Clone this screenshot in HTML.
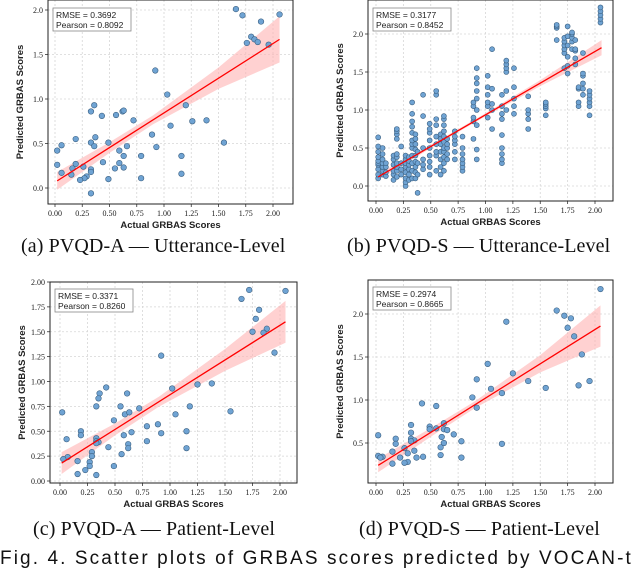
<!DOCTYPE html>
<html><head><meta charset="utf-8"><style>
body{margin:0;background:#fff;width:640px;height:561px;overflow:hidden;position:relative}
svg{position:absolute;left:0;top:0}
.cap{position:absolute;font-family:"Liberation Serif",serif;font-size:20px;letter-spacing:0.1px;color:#111;white-space:nowrap}
</style></head><body>
<svg id="fig" width="640" height="561"></svg>
<div class="cap" style="left:21px;top:235px">(a) PVQD-A — Utterance-Level</div>
<div class="cap" style="left:347px;top:235px">(b) PVQD-S — Utterance-Level</div>
<div class="cap" style="left:33px;top:518px">(c) PVQD-A — Patient-Level</div>
<div class="cap" style="left:359px;top:518px">(d) PVQD-S — Patient-Level</div>
<div class="cap" style="left:0px;top:548px;font-family:'Liberation Sans',sans-serif;font-size:19px;letter-spacing:2.1px">Fig. 4.  Scatter plots of GRBAS scores predicted by VOCAN-t</div>
<script>
// Panel A data
const aX=[1.66,1.72,2.06,1.89,1.80,1.83,1.76,1.86,1.96,0.92,1.03,1.20,0.36,0.33,0.43,0.56,0.62,0.63,0.72,1.06,1.26,1.39,0.89,0.19,0.37,0.33,0.36,0.49,0.06,0.02,0.59,0.66,0.93,1.55,0.63,0.79,1.16,0.44,0.59,0.02,0.19,0.26,0.16,0.55,0.63,0.33,0.33,0.06,0.15,0.29,0.27,0.23,0.49,0.79,1.16,0.33];
const aY=[2.01,1.94,1.95,1.87,1.70,1.67,1.63,1.64,1.61,1.32,1.05,0.93,0.93,0.86,0.81,0.82,0.86,0.87,0.76,0.70,0.75,0.76,0.60,0.55,0.57,0.51,0.47,0.51,0.48,0.42,0.42,0.47,0.46,0.51,0.36,0.36,0.36,0.29,0.28,0.26,0.27,0.24,0.22,0.22,0.23,0.21,0.18,0.17,0.15,0.13,0.11,0.09,0.10,0.11,0.16,-0.06];
const aLineX=[0.02,2.06];
const aLineY=[0.08,1.67];
const aBandX=[0.02,0.5,0.9,1.5,2.06];
const aBandHalf=[0.1,0.06,0.05,0.12,0.26];
const aYTicks=[0,0.5,1.0,1.5,2.0];
const aYLabels=["0.0","0.5","1.0","1.5","2.0"];
// Panel B data (columns of points)
const bColX=[0.02,0.06,0.09,0.16,0.19,0.23,0.27,0.30,0.33,0.36,0.38,0.43,0.49,0.55,0.59,0.62,0.65,0.72,0.79,0.89,0.92,1.02,1.06,1.15,1.19,1.26,1.39,1.55,1.65,1.72,1.75,1.79,1.82,1.85,1.89,1.95,2.05];
const bColY=[[0.1,0.15,0.22,0.28,0.3,0.33,0.38,0.45,0.52,0.64],[0.15,0.2,0.25,0.3,0.35,0.42,0.5],[0.13,0.18,0.25,0.3],[0.08,0.15,0.2,0.28,0.35,0.4],[0.12,0.2,0.25,0.3,0.38,0.42,0.62,0.68,0.72,0.75],[0.15,0.22,0.3,0.52],[0.0,0.05,0.1,0.18,0.25,0.3,0.35,0.4],[0.08,0.15,0.22,0.28,0.33,0.38],[0.1,0.2,0.3,0.4,0.5,0.55,0.6,0.7,0.78,0.85,0.95,1.1],[0.1,0.18,0.25,0.32,0.4,0.48,0.55,0.62,0.68],[-0.09,0.15,0.3,0.45],[0.22,0.28,0.35,0.5,0.92,1.2],[0.15,0.25,0.32,0.4,0.5,0.6,0.7,0.75,0.82],[0.2,0.4,0.45,0.55,0.65,0.8,0.88,1.2,1.25],[0.15,0.25,0.35,0.45,0.55,0.62,0.68],[0.2,0.3,0.38,0.45,0.5,0.58,0.65,0.72,0.8,0.88,0.92],[0.35,0.42,0.5,0.55,0.62],[0.35,0.45,0.55,0.6,0.65,0.72],[0.2,0.25,0.3,0.35,0.42,0.5,0.65],[0.62,0.85,0.9,1.05,1.1],[0.35,0.48,0.8,1.0,1.15,1.25,1.35,1.42,1.55],[0.9,1.05,1.1,1.2,1.3,1.45],[0.75,1.0,1.08,1.28,1.8],[0.3,0.35,0.42,0.5,0.67,0.88,0.95,1.05,1.2],[1.0,1.25,1.5,1.55,1.6,1.65],[0.95,1.05,1.15,1.3,1.55],[0.75,0.88,0.95,1.0,1.18],[0.93,1.02,1.05,1.08,1.1],[1.92,2.08,2.1,2.12],[1.55,1.75,1.8,1.85,1.9,1.95],[1.48,1.58,1.7,1.85,1.97,2.1],[1.8,1.9,1.95,2.0,2.02],[1.6,1.68,1.78,1.8,1.92],[1.05,1.1,1.28,1.3],[1.2,1.28,1.35,1.45,1.48,1.75],[0.93,1.05,1.1,1.15,1.2,1.25],[2.15,2.2,2.25,2.3,2.35]];
const bLineX=[0.02,2.06];
const bLineY=[0.12,1.82];
const bBandX=[0.02,0.6,1.0,1.5,2.06];
const bBandHalf=[0.04,0.02,0.02,0.04,0.1];
const bYTicks=[0,0.5,1.0,1.5,2.0];
const bYLabels=["0.0","0.5","1.0","1.5","2.0"];
// Panel C data
const cX=[1.72,1.65,2.05,1.81,1.78,1.75,1.88,1.85,1.95,0.92,1.02,1.25,1.38,0.42,0.36,0.35,0.61,0.33,0.55,0.72,1.18,0.59,0.63,1.05,1.55,0.02,0.49,0.79,0.89,0.65,0.58,0.92,1.15,0.06,0.19,0.19,0.33,0.33,0.35,0.33,0.79,0.44,0.62,0.62,1.15,0.29,0.29,0.07,0.03,0.16,0.27,0.27,0.56,0.49,0.23,0.16,0.33];
const cY=[1.92,1.83,1.91,1.72,1.63,1.50,1.53,1.49,1.29,1.26,0.93,0.97,0.98,0.94,0.88,0.83,0.88,0.75,0.75,0.73,0.75,0.67,0.69,0.67,0.70,0.69,0.61,0.55,0.57,0.49,0.46,0.48,0.50,0.42,0.50,0.46,0.43,0.40,0.39,0.38,0.40,0.34,0.37,0.33,0.33,0.29,0.25,0.24,0.22,0.20,0.19,0.15,0.27,0.15,0.11,0.07,0.06];
const cLineX=[0.015,2.05];
const cLineY=[0.18,1.60];
const cBandX=[0.015,0.5,0.9,1.5,2.05];
const cBandHalf=[0.11,0.06,0.05,0.11,0.21];
const cYTicks=[0,0.25,0.5,0.75,1.0,1.25,1.5,1.75,2.0];
const cYLabels=["0.00","0.25","0.50","0.75","1.00","1.25","1.50","1.75","2.00"];
// Panel D data
const dX=[2.05,1.65,1.72,1.78,1.75,1.81,1.19,1.88,1.02,1.25,1.39,1.95,1.85,1.55,0.92,1.05,1.15,0.88,0.92,0.42,0.55,0.32,0.62,0.49,0.49,0.55,0.62,0.65,0.32,0.71,0.60,0.02,0.18,0.32,0.35,0.32,0.78,0.62,0.18,1.15,0.59,0.26,0.35,0.15,0.29,0.59,0.02,0.06,0.04,0.22,0.37,0.43,0.78,0.29,0.26,0.15];
const dY=[2.29,2.04,1.98,1.95,1.84,1.74,1.91,1.53,1.42,1.31,1.22,1.22,1.17,1.14,1.24,1.13,1.08,1.03,0.91,0.96,0.93,0.71,0.73,0.69,0.66,0.67,0.66,0.65,0.62,0.60,0.57,0.59,0.55,0.55,0.53,0.52,0.52,0.50,0.49,0.49,0.45,0.44,0.41,0.40,0.38,0.36,0.35,0.34,0.33,0.33,0.33,0.34,0.33,0.28,0.27,0.26];
const dLineX=[0.02,2.05];
const dLineY=[0.24,1.86];
const dBandX=[0.02,0.5,0.9,1.5,2.05];
const dBandHalf=[0.08,0.05,0.04,0.1,0.24];
const dYTicks=[0.5,1.0,1.5,2.0];
const dYLabels=["0.5","1.0","1.5","2.0"];
const xTicks=[0,0.25,0.5,0.75,1.0,1.25,1.5,1.75,2.0];
const xLabels=["0.00","0.25","0.50","0.75","1.00","1.25","1.50","1.75","2.00"];

const NS="http://www.w3.org/2000/svg";
const svg=document.getElementById('fig');
function mk(tag,attrs,parent){const e=document.createElementNS(NS,tag);for(const k in attrs)e.setAttribute(k,attrs[k]);(parent||svg).appendChild(e);return e;}

function panel(p){
  const g=mk('g',{});
  
  
  const sx=v=>p.x0+(v)*p.kx, sy=v=>p.y0-(v)*p.ky;
  xTicks.forEach((t,i)=>{
    const x=sx(t);
    const gl=mk('line',{x1:x,x2:x,y1:p.top,y2:p.bottom,stroke:'#d6d6d6','stroke-width':0.8,'stroke-dasharray':'2,2'},g);
    
    
    mk('line',{x1:x,x2:x,y1:p.bottom,y2:p.bottom+3,stroke:'#333','stroke-width':0.8},g);
    const tx=mk('text',{x:x,y:p.bottom+12,'text-anchor':'middle','font-size':8,'font-family':'Liberation Serif, serif',fill:'#222'},g);
    tx.textContent=xLabels[i];
    
    
  });
  p.yt.forEach((t,i)=>{
    const y=sy(t);
    const gl=mk('line',{x1:p.left,x2:p.right,y1:y,y2:y,stroke:'#d6d6d6','stroke-width':0.8,'stroke-dasharray':'2,2'},g);
    
    
    mk('line',{x1:p.left-3,x2:p.left,y1:y,y2:y,stroke:'#333','stroke-width':0.8},g);
    const tx=mk('text',{x:p.left-5,y:y+3,'text-anchor':'end','font-size':8,'font-family':'Liberation Serif, serif',fill:'#222'},g);
    tx.textContent=p.yl[i];
    
    
  });
  let up=[],dn=[];
  const sl=(p.ly[1]-p.ly[0])/(p.lx[1]-p.lx[0]);
  p.bx.forEach((bx,i)=>{const yv=p.ly[0]+sl*(bx-p.lx[0]);up.push(sx(bx)+','+sy(yv+p.bh[i]));dn.unshift(sx(bx)+','+sy(yv-p.bh[i]));});
  const band=mk('polygon',{points:up.concat(dn).join(' '),fill:'#ffb3b3','fill-opacity':0.6},g);
  
  
  p.px.forEach((xv,i)=>{
    const c=mk('circle',{cx:sx(xv),cy:sy(p.py[i]),r:p.r||2.8,fill:'#6fa3d3',stroke:'#3a5f80','stroke-width':0.6},g);
    
    
  });
  const ln=mk('line',{x1:sx(p.lx[0]),y1:sy(p.ly[0]),x2:sx(p.lx[1]),y2:sy(p.ly[1]),stroke:'#f00','stroke-width':1.3},g);
  
  
  const fr=mk('rect',{x:p.left,y:p.top,width:p.right-p.left,height:p.bottom-p.top,fill:'none',stroke:'#222','stroke-width':1},g);
  
  
  const lg=mk('rect',{x:p.left+5,y:p.top+p.lgy,width:78,height:23,fill:'#fff',stroke:'#888','stroke-width':0.8},g);
  
  
  [p.t1,p.t2].forEach((t,i)=>{
    const tx=mk('text',{x:p.left+8,y:p.top+p.lgy+10+i*10,'font-size':8.5,'font-family':'Liberation Sans, sans-serif',fill:'#222'},g);
    tx.textContent=t;
    
    
  });
  const xt=mk('text',{x:(p.left+p.right)/2,y:p.bottom+24,'text-anchor':'middle','font-size':9.5,'font-weight':'bold','font-family':'Liberation Sans, sans-serif',fill:'#222'},g);
  xt.textContent='Actual GRBAS Scores';
  
  
  const cy=(p.top+p.bottom)/2;
  const yt=mk('text',{x:p.left-25,y:cy,'text-anchor':'middle','font-size':9.5,'font-weight':'bold','font-family':'Liberation Sans, sans-serif',fill:'#222',transform:`rotate(-90 ${p.left-25} ${cy})`},g);
  yt.textContent='Predicted GRBAS Scores';
  
  
}
let bX=[],bY=[];
bColX.forEach((x,i)=>bColY[i].forEach(y=>{bX.push(x);bY.push(y);}));
panel({name:'panel-a',left:48,right:293,top:0,bottom:204,x0:55,kx:109,y0:188,ky:89,yt:aYTicks,yl:aYLabels,px:aX,py:aY,lx:aLineX,ly:aLineY,bx:aBandX,bh:aBandHalf,lgy:8,t1:'RMSE = 0.3692',t2:'Pearson = 0.8092'});
panel({name:'panel-b',left:368,right:613,top:0,bottom:201,x0:376,kx:109.5,y0:186,ky:76,yt:bYTicks,yl:bYLabels,px:bX,py:bY,r:2.5,lx:bLineX,ly:bLineY,bx:bBandX,bh:bBandHalf,lgy:8,t1:'RMSE = 0.3177',t2:'Pearson = 0.8452'});
panel({name:'panel-c',left:50,right:297,top:282,bottom:483,x0:60,kx:110,y0:481,ky:99.5,yt:cYTicks,yl:cYLabels,px:cX,py:cY,lx:cLineX,ly:cLineY,bx:cBandX,bh:cBandHalf,lgy:7,t1:'RMSE = 0.3371',t2:'Pearson = 0.8260'});
panel({name:'panel-d',left:368,right:613,top:280,bottom:483,x0:376,kx:109.5,y0:486,ky:86,yt:dYTicks,yl:dYLabels,px:dX,py:dY,lx:dLineX,ly:dLineY,bx:dBandX,bh:dBandHalf,lgy:7,t1:'RMSE = 0.2974',t2:'Pearson = 0.8665'});
</script>
</body></html>
